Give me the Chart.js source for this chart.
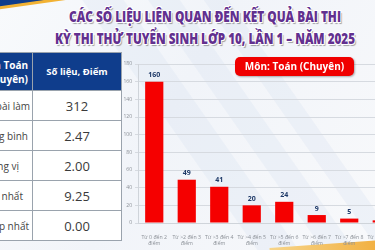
<!DOCTYPE html>
<html>
<head>
<meta charset="utf-8">
<script src="https://cdn.jsdelivr.net/npm/chart.js@4.4.1/dist/chart.umd.min.js"></script>
<style>
    html, body { margin: 0; padding: 0; }
    #page {
        position: relative; width: 375px; height: 250px; overflow: hidden;
        background: linear-gradient(120deg, #f8fafc 0%, #f1f4f9 45%, #f8f9fb 100%);
        font-family: "Open Sans", "Noto Sans", sans-serif;
    }
    .stripe { position: absolute; background: rgba(205, 218, 236, 0.22); transform: rotate(-35deg); }
    .title {
        position: absolute; left: 0; width: 410px; text-align: center;
        font-weight: 800; font-size: 15px; color: #62308f; white-space: nowrap;
        transform-origin: 0 0;
        text-shadow: 1px 1px 0 #fff, -1px -1px 0 #fff, 1px -1px 0 #fff, -1px 1px 0 #fff, 2px 2px 1px rgba(0,0,0,0.35);
    }
    table {
        position: absolute; left: -68px; top: 52px; border-collapse: collapse;
        table-layout: fixed; width: 189px;
        background: #fff; color: #333;
    }
    td, th { border: 1px solid #9aa3ad; padding: 0; height: 29px; white-space: nowrap; overflow: hidden; }
    th { background: #0f3d8c; color: #fff; font-weight: 700; height: 37px; font-size: 9.5px; }
    td.lab { text-align: right; font-size: 10px; color: #444; }
    td.val { text-align: center; font-size: 13px; color: #3a3a3a; }
    #badge {
        position: absolute; left: 235px; top: 57px; width: 119px; height: 19px;
        background: #f00000; border-radius: 5px; color: #fff; font-weight: 700;
        font-size: 10px; line-height: 19px; text-align: center;
        box-shadow: 1px 1px 2px rgba(0,0,0,0.3);
    }
    #wrap { position: absolute; left: 115px; top: 55px; width: 284px; height: 195px; }
</style>
</head>
<body>
<div id="page">
    <div class="stripe" style="left:170px; top:-60px; width:34px; height:360px;"></div>
    <div class="stripe" style="left:235px; top:-60px; width:26px; height:360px;"></div>
    <div class="stripe" style="left:290px; top:-60px; width:20px; height:360px;"></div>
    <div style="position:absolute; left:-20px; top:-14px; width:80px; height:18px; background:#0f3d8c; transform:rotate(-8deg);"></div>
    <div style="position:absolute; left:-10px; top:2px; width:80px; height:3px; background:#f2b233; transform:rotate(-8deg);"></div>
    <div style="position:absolute; left:270px; top:243px; width:140px; height:20px; background:linear-gradient(90deg,#f7d58a,#f0a52c); transform:rotate(-4deg);"></div>

    <div class="title" id="t1" style="top:6px;">CÁC SỐ LIỆU LIÊN QUAN ĐẾN KẾT QUẢ BÀI THI</div>
    <div class="title" id="t2" style="top:28px;">KỲ THI THỬ TUYỂN SINH LỚP 10, LẦN 1 – NĂM 2025</div>

    <table>
        <colgroup><col style="width:100px"><col style="width:89px"></colgroup>
        <tr><th style="text-align:right; padding-right:4px; font-size:10px;">Môn Toán<br>(Chuyên)</th><th>Số liệu, Điểm</th></tr>
        <tr><td class="lab" style="padding-right:2px;">Số bài làm</td><td class="val">312</td></tr>
        <tr><td class="lab" style="padding-right:4px;">Điểm trung bình</td><td class="val">2.47</td></tr>
        <tr><td class="lab" style="padding-right:13px;">Trung vị</td><td class="val">2.00</td></tr>
        <tr><td class="lab" style="padding-right:9px;">Điểm cao nhất</td><td class="val">9.25</td></tr>
        <tr><td class="lab" style="padding-right:3px;">Điểm thấp nhất</td><td class="val">0.00</td></tr>
    </table>

    <div id="wrap"><canvas id="scoreChart"></canvas></div>
    <div id="badge">Môn: Toán (Chuyên)</div>
</div>

<script>
const categories = [
    ['Từ 0 đến 2', 'điểm'],
    ['Từ >2 đến 3', 'điểm'],
    ['Từ >3 đến 4', 'điểm'],
    ['Từ >4 đến 5', 'điểm'],
    ['Từ >5 đến 6', 'điểm'],
    ['Từ >6 đến 7', 'điểm'],
    ['Từ >7 đến 8', 'điểm'],
    ['Từ >8 đến 9', 'điểm']
];
const counts = [160, 49, 41, 20, 24, 9, 5, 3];
const yMax = 180;
const yStep = 20;

// squeeze the title lines to the width they take in the picture
function fitTitle(id, width) {
    const el = document.getElementById(id);
    const span = document.createElement('span');
    span.textContent = el.textContent;
    el.textContent = '';
    el.appendChild(span);
    const w = span.getBoundingClientRect().width;
    const s = width / w;
    const center = 205;
    el.style.width = w + 'px';
    el.style.left = (center - width / 2) + 'px';
    el.style.transform = 'scaleX(' + s + ')';
}
fitTitle('t1', 272);
fitTitle('t2', 300);

const valueLabels = {
    id: 'valueLabels',
    afterDatasetsDraw(chart) {
        const ctx = chart.ctx;
        const meta = chart.getDatasetMeta(0);
        ctx.save();
        ctx.font = 'bold 7px "Open Sans", sans-serif';
        ctx.fillStyle = '#1f3a68';
        ctx.textAlign = 'center';
        ctx.textBaseline = 'bottom';
        meta.data.forEach((bar, i) => {
            ctx.fillText(counts[i], bar.x, bar.y - 3);
        });
        ctx.restore();
    }
};

const ctx = document.getElementById('scoreChart').getContext('2d');
const chart = new Chart(ctx, {
    type: 'bar',
    data: {
        labels: categories,
        datasets: [{
            data: counts,
            backgroundColor: '#f50000',
            barPercentage: 0.56,
            categoryPercentage: 1
        }]
    },
    options: {
        responsive: true,
        maintainAspectRatio: false,
        animation: false,
        layout: { padding: { top: 9, right: 0, left: 0, bottom: 0 } },
        plugins: { legend: { display: false }, tooltip: { enabled: false } },
        scales: {
            x: {
                afterFit: (scale) => { scale.height = 27; },
                grid: { display: false },
                border: { color: '#cfd4da' },
                ticks: {
                    color: '#8a8f96', font: { size: 5.2, family: 'Open Sans' },
                    maxRotation: 0, autoSkip: false, padding: 3
                }
            },
            y: {
                min: 0, max: yMax,
                afterFit: (scale) => { scale.width = 23; },
                grid: { color: '#d6dae0', tickLength: 3 },
                border: { color: '#cfd4da' },
                ticks: {
                    stepSize: yStep, color: '#8a8f96',
                    font: { size: 5, family: 'Open Sans' }, padding: 3
                }
            }
        }
    },
    plugins: [valueLabels]
});
</script>
</body>
</html>
